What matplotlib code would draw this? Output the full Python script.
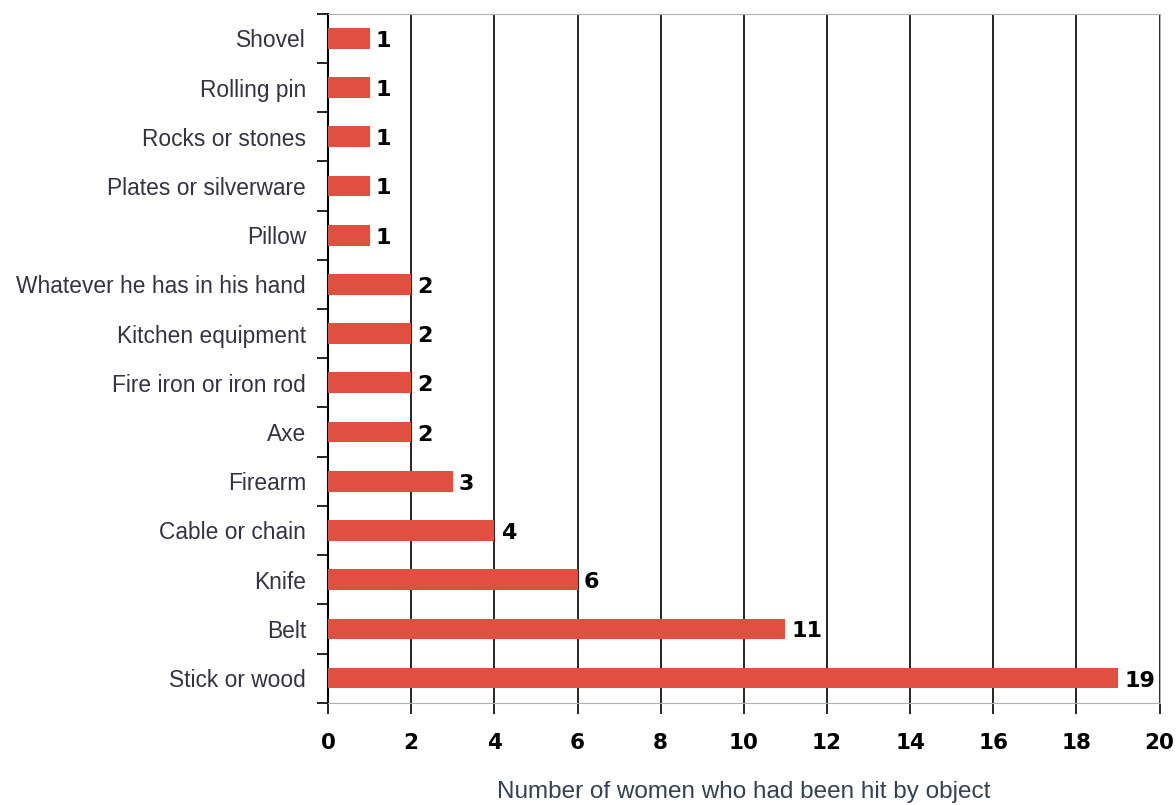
import matplotlib
matplotlib.use("Agg")
import matplotlib.pyplot as plt

# categories bottom -> top
objects = ["Stick or wood", "Belt", "Knife", "Cable or chain", "Firearm", "Axe",
           "Fire iron or iron rod", "Kitchen equipment", "Whatever he has in his hand",
           "Pillow", "Plates or silverware", "Rocks or stones", "Rolling pin", "Shovel"]
counts = [19, 11, 6, 4, 3, 2, 2, 2, 2, 1, 1, 1, 1, 1]
xticks = list(range(0, 21, 2))

fig = plt.figure(figsize=(11.76, 8.05), dpi=100)
ax = fig.add_axes([0.279, 0.127, 0.707, 0.856])

ypos = list(range(len(objects)))
ax.barh(ypos, counts, height=0.42, color="#E05040", zorder=3)
for y, v in zip(ypos, counts):
    ax.text(v + 0.15, y - 0.05, str(v), va="center", ha="left", fontsize=16,
            family="DejaVu Sans Condensed", fontweight="bold", color="black")

ax.set_xlim(0, 20)
ax.set_ylim(-0.5, len(objects) - 0.5)
ax.set_xticks(xticks)
ax.set_xticklabels([str(t) for t in xticks], fontsize=15.5, family="DejaVu Sans Condensed",
                   fontweight="bold")
ax.set_yticks(ypos)
ax.set_yticklabels(objects, fontsize=16.4, family="Liberation Sans", color="#333344")
ax.tick_params(axis="y", length=0, pad=16)
# minor ticks at category boundaries
ax.set_yticks([y - 0.5 for y in ypos] + [len(objects) - 0.5], minor=True)
ax.tick_params(axis="y", which="minor", length=8, width=1.2, color="black")
ax.tick_params(axis="x", length=8, width=1.2, color="black", pad=14)

ax.grid(axis="x", color="black", linewidth=1.2, zorder=0)
for s in ["top", "right", "bottom"]:
    ax.spines[s].set_color("#b0b0b0")
ax.spines["left"].set_color("black")
ax.spines["left"].set_linewidth(1.5)

ax.set_xlabel("Number of women who had been hit by object", fontsize=17.5,
              family="Liberation Sans", color="#334055", labelpad=20)

fig.savefig("out.png", dpi=100)
